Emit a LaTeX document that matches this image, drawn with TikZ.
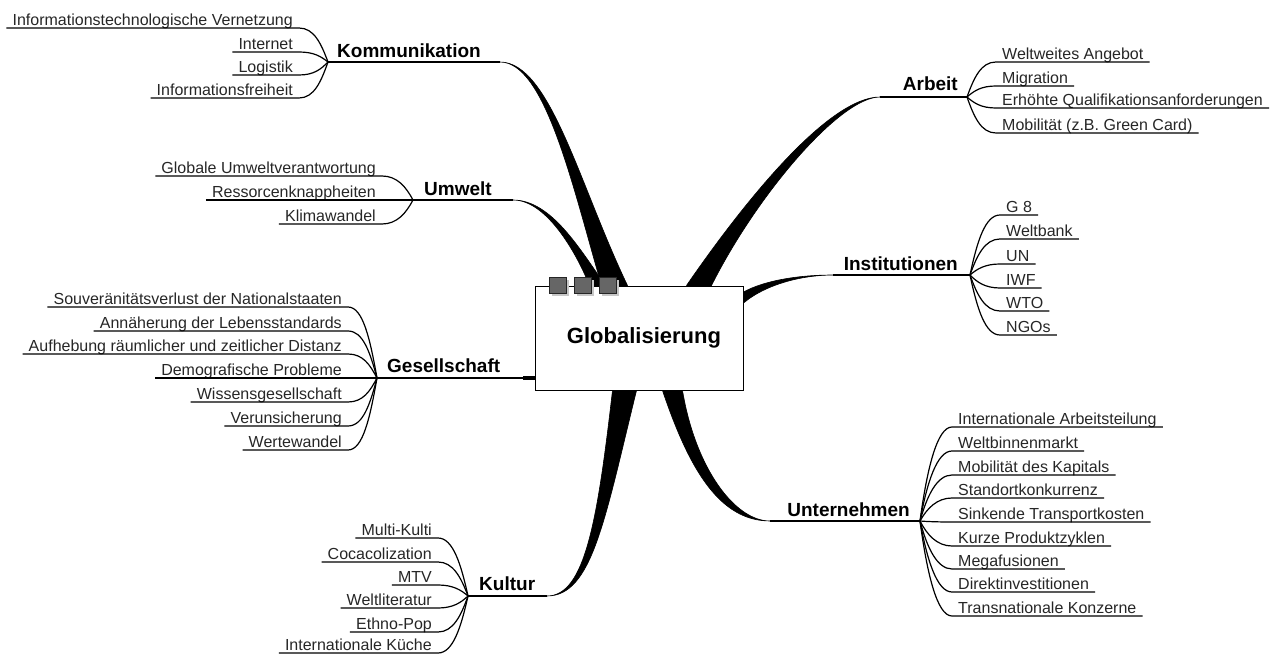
\documentclass[tikz,border=0pt]{standalone}
\usepackage{fontspec}
\setmainfont{Liberation Sans}
\usetikzlibrary{positioning, calc}

\tikzset{
	sub/.style={font=\fontsize{16}{18}\selectfont, text=black!85, inner xsep=6pt, inner ysep=0.3pt, text depth=0.24em},
	topic/.style={font=\bfseries\fontsize{19}{22}\selectfont, inner sep=0pt},
	twig/.style={line width=1.2pt},
	stem/.style={line width=1.5pt},
	taper/.style={fill=black, draw=black, line width=0.6pt, line join=round},
	sqbox/.style={fill=black!60, draw=black!85, line width=0.8pt}
}

\begin{document}
\begin{tikzpicture}[x=1pt, y=-1pt]
	\useasboundingbox (0,0) rectangle (1272,655);

	% centre box
	\node (glob) at (639,338) [draw, line width=1pt, fill=white, minimum width=208pt, minimum height=104pt, font=\bfseries\fontsize{22}{24}\selectfont] {\hspace*{10pt}Globalisierung};

	% junctions and line ends
	\coordinate (kom) at (328,62);   \coordinate (kom-l) at (500,62);
	\coordinate (umw) at (413,200);  \coordinate (umw-l) at (513,200);
	\coordinate (ges) at (377,378);  \coordinate (ges-s) at (523,378);
	\coordinate (kul) at (468,596);  \coordinate (kul-l) at (547,596);
	\coordinate (arb) at (967,97);   \coordinate (arb-l) at (880,97);
	\coordinate (ins) at (970,275);  \coordinate (ins-l) at (833,275);
	\coordinate (unt) at (920,521);  \coordinate (unt-l) at (770,521);

	% main topics
	\node[topic, above right=4pt and 9pt of kom] (kom-t) {Kommunikation};
	\node[topic, above right=4pt and 11pt of umw] (umw-t) {Umwelt};
	\node[topic, above right=5pt and 10pt of ges] (ges-t) {Gesellschaft};
	\node[topic, above right=5pt and 11pt of kul] (kul-t) {Kultur};
	\node[topic, above left=6pt and 9pt of arb] (arb-t) {Arbeit};
	\node[topic, above left=4pt and 12pt of ins] (ins-t) {Institutionen};
	\node[topic, above left=4pt and 10pt of unt] (unt-t) {Unternehmen};

	\draw[stem] (kom) -- (kom-l);
	\draw[stem] (umw) -- (umw-l);
	\draw[stem] (ges) -- ([yshift=-40pt]glob.west);
	\draw[stem] (kul) -- (kul-l);
	\draw[stem] (arb) -- (arb-l);
	\draw[stem] (ins) -- (ins-l);
	\draw[stem] (unt) -- (unt-l);

	% thick branches
	\fill[taper] (kom-l) .. controls +(45,0) and +(-29,-100) .. ([xshift=67pt]glob.north west)
		-- ([xshift=93pt]glob.north west) .. controls +(-48,-100) and +(50,0) .. (kom-l) -- cycle;
	\fill[taper] (umw-l) .. controls +(32,0) and +(-15,-37) .. ([xshift=55pt]glob.north west)
		-- ([xshift=71pt]glob.north west) .. controls +(-26,-37) and +(38,0) .. (umw-l) -- cycle;
	\fill[taper] (arb-l) .. controls +(-50,0) and +(62,-90) .. ([xshift=152pt]glob.north west)
		-- ([xshift=177pt]glob.north west) .. controls +(45,-90) and +(-40,0) .. (arb-l) -- cycle;
	\fill[taper] (ins-l) .. controls +(-33,0) and +(22,-12) .. ([yshift=46pt]glob.east)
		-- ([yshift=35pt]glob.east) .. controls +(24,-20) and +(-28,0) .. (ins-l) -- cycle;
	\fill[taper] (unt-l) .. controls +(-50,0) and +(27,80) .. ([xshift=128pt]glob.south west)
		-- ([xshift=148pt]glob.south west) .. controls +(13,78) and +(-35,0) .. (unt-l) -- cycle;
	\fill[taper] (kul-l) .. controls +(38,0) and +(-15,130) .. ([xshift=78pt]glob.south west)
		-- ([xshift=102pt]glob.south west) .. controls +(-32,130) and +(45,0) .. (kul-l) -- cycle;
	\draw[line width=3.5pt] (ges-s) -- ([yshift=-40pt]glob.west);

	% squares on the box
	\foreach \x in {549,574,599}{
		\fill[black!22] (\x+2.5,279.5) rectangle +(17,16);
		\filldraw[sqbox] (\x,277) rectangle +(17,16);
	}

	% left sub topics
	\foreach \i/\y/\t in {1/28/Informationstechnologische Vernetzung, 2/52/Internet, 3/75/Logistik, 4/98/Informationsfreiheit}{
		\node[sub, anchor=south east] (kom\i) at (299,\y) {\t};
		\draw[twig] (kom\i.south west) -- (kom\i.south east) .. controls +(15,0) and +(-7,{0.55*(\y-62)}) .. (kom);
	}
	\foreach \i/\y/\t in {1/176/Globale Umweltverantwortung, 2/200/Ressorcenknappheiten, 3/224/Klimawandel}{
		\node[sub, anchor=south east] (umw\i) at (382,\y) {\t};
		\draw[twig] (umw\i.south west) -- (umw\i.south east) .. controls +(15,0) and +(-7,{0.55*(\y-200)}) .. (umw);
	}
	\foreach \i/\y/\t in {1/307/Souveränitätsverlust der Nationalstaaten, 2/331/Annäherung der Lebensstandards, 3/354/Aufhebung räumlicher und zeitlicher Distanz, 4/378/Demografische Probleme, 5/402/Wissensgesellschaft, 6/426/Verunsicherung, 7/450/Wertewandel}{
		\node[sub, anchor=south east] (ges\i) at (348,\y) {\t};
		\draw[twig] (ges\i.south west) -- (ges\i.south east) .. controls +(15,0) and +(-7,{0.55*(\y-378)}) .. (ges);
	}
	\foreach \i/\y/\t in {1/538/Multi-Kulti, 2/562/Cocacolization, 3/585/MTV, 4/608/Weltliteratur, 5/632/Ethno-Pop, 6/653/Internationale Küche}{
		\node[sub, anchor=south east] (kul\i) at (438,\y) {\t};
		\draw[twig] (kul\i.south west) -- (kul\i.south east) .. controls +(15,0) and +(-7,{0.55*(\y-596)}) .. (kul);
	}

	% right sub topics
	\foreach \i/\y/\t in {1/62/Weltweites Angebot, 2/86/Migration, 3/108/Erhöhte Qualifikationsanforderungen, 4/133/Mobilität (z.B. Green Card)}{
		\node[sub, anchor=south west] (arb\i) at (996,\y) {\t};
		\draw[twig] (arb\i.south east) -- (arb\i.south west) .. controls +(-15,0) and +(7,{0.55*(\y-97)}) .. (arb);
	}
	\foreach \i/\y/\t in {1/215/G 8, 2/239/Weltbank, 3/264/UN, 4/288/IWF, 5/311/WTO, 6/335/NGOs}{
		\node[sub, anchor=south west] (ins\i) at (1000,\y) {\t};
		\draw[twig] (ins\i.south east) -- (ins\i.south west) .. controls +(-15,0) and +(7,{0.55*(\y-275)}) .. (ins);
	}
	\foreach \i/\y/\t in {1/427/Internationale Arbeitsteilung, 2/451/Weltbinnenmarkt, 3/475/Mobilität des Kapitals, 4/498/Standortkonkurrenz, 5/522/Sinkende Transportkosten, 6/546/Kurze Produktzyklen, 7/569/Megafusionen, 8/592/Direktinvestitionen, 9/616/Transnationale Konzerne}{
		\node[sub, anchor=south west] (unt\i) at (952,\y) {\t};
		\draw[twig] (unt\i.south east) -- (unt\i.south west) .. controls +(-15,0) and +(7,{0.55*(\y-521)}) .. (unt);
	}
\end{tikzpicture}
\end{document}
